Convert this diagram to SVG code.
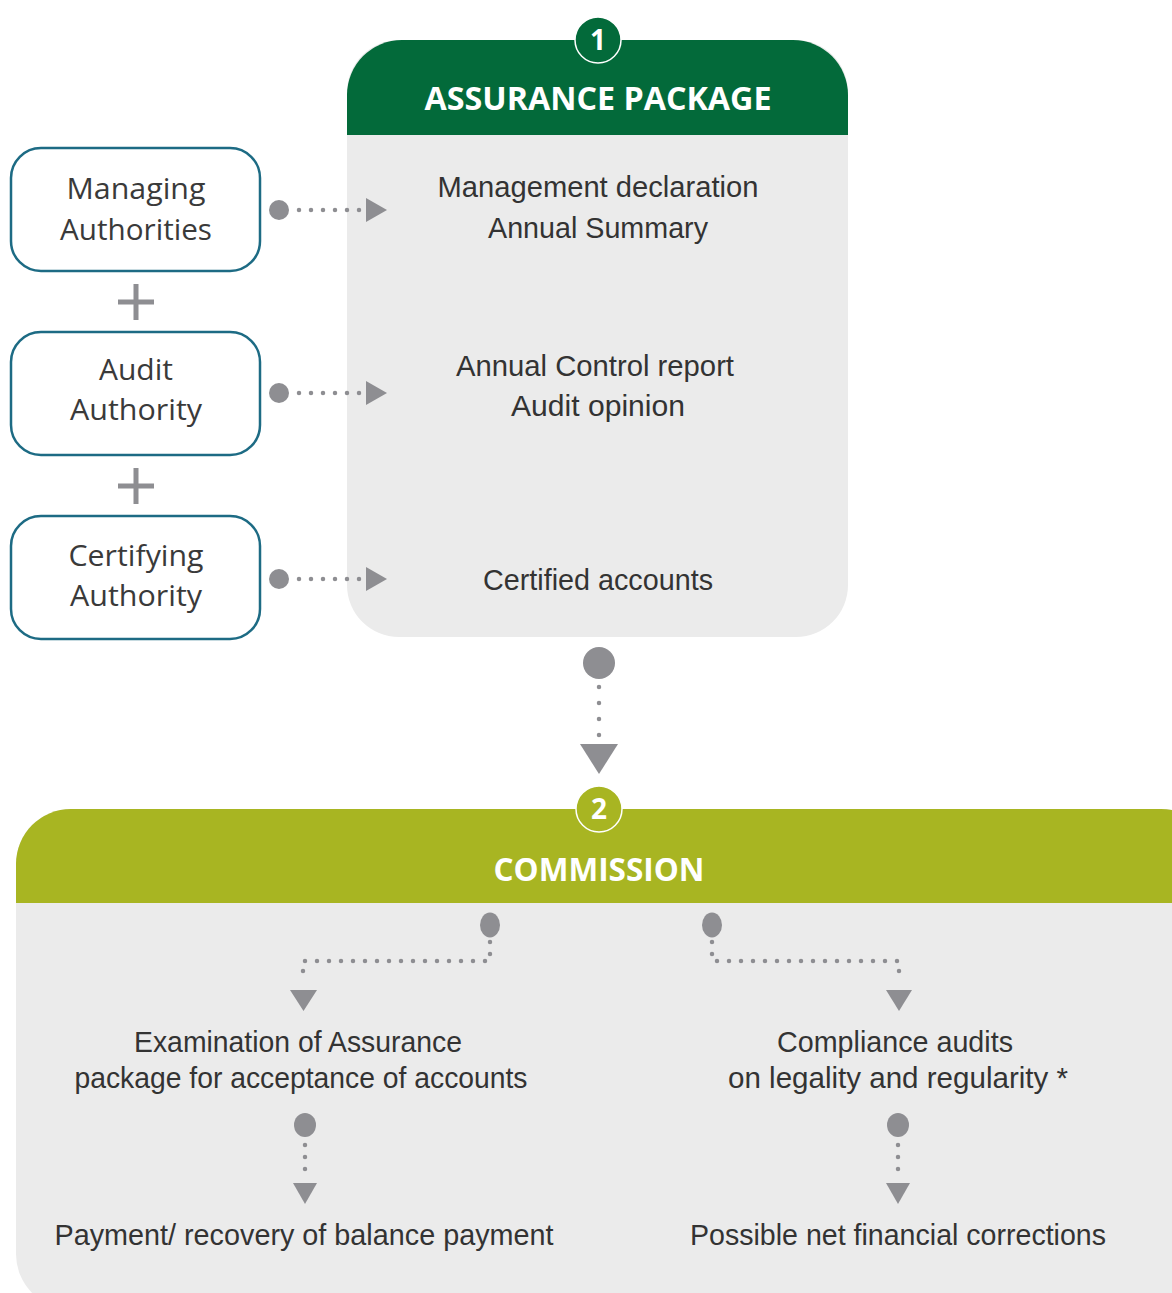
<svg xmlns="http://www.w3.org/2000/svg" width="1172" height="1293" viewBox="0 0 1172 1293">
<style>
.body{fill:#ebebeb}
.lbl{font-family:"Liberation Sans",Arial,sans-serif;font-size:30px;fill:#333;text-anchor:middle}
.box{fill:#fff;stroke:#1d6b84;stroke-width:2.5}
.blbl{font-family:"Open Sans","Liberation Sans",sans-serif;font-size:30px;fill:#3a3a3a;text-anchor:middle}
.hdr{font-family:"Open Sans","Liberation Sans",sans-serif;font-weight:bold;fill:#fff;text-anchor:middle}
.dot{fill:#8e8e92}
.dl{fill:none;stroke:#8e8e92;stroke-width:4.5;stroke-linecap:round;stroke-dasharray:0 12}
.plus{stroke:#8e8e92;stroke-width:5}
</style>
<rect width="1172" height="1293" fill="#fff"/>
<g id="assurance-package">
<rect class="body" x="347" y="40" width="501" height="597" rx="52"/>
<path d="M347,135 V95 A55,55 0 0 1 402,40 H793 A55,55 0 0 1 848,95 V135 Z" fill="#036a3a"/>
<circle cx="598" cy="40" r="23" fill="#036a3a" stroke="#fff" stroke-width="1.5"/>
<text class="hdr" x="598" y="50" font-size="28">1</text>
<text class="hdr" x="598" y="110" font-size="33" textLength="347" lengthAdjust="spacingAndGlyphs">ASSURANCE PACKAGE</text>
<text class="lbl" x="598" y="197" textLength="321" lengthAdjust="spacingAndGlyphs">Management declaration</text>
<text class="lbl" x="598" y="238" textLength="220" lengthAdjust="spacingAndGlyphs">Annual Summary</text>
<text class="lbl" x="595" y="376" textLength="278" lengthAdjust="spacingAndGlyphs">Annual Control report</text>
<text class="lbl" x="598" y="416" textLength="174" lengthAdjust="spacingAndGlyphs">Audit opinion</text>
<text class="lbl" x="598" y="590" textLength="230" lengthAdjust="spacingAndGlyphs">Certified accounts</text>
</g>
<g id="managing-authorities">
<rect class="box" x="11" y="148" width="249" height="123" rx="30"/>
<text class="blbl" x="136" y="199" textLength="139" lengthAdjust="spacingAndGlyphs">Managing</text>
<text class="blbl" x="136" y="240" textLength="152" lengthAdjust="spacingAndGlyphs">Authorities</text>
</g>
<g id="audit-authority">
<rect class="box" x="11" y="332" width="249" height="123" rx="30"/>
<text class="blbl" x="136" y="380" textLength="74" lengthAdjust="spacingAndGlyphs">Audit</text>
<text class="blbl" x="136" y="420" textLength="132" lengthAdjust="spacingAndGlyphs">Authority</text>
</g>
<g id="certifying-authority">
<rect class="box" x="11" y="516" width="249" height="123" rx="30"/>
<text class="blbl" x="136" y="566" textLength="135" lengthAdjust="spacingAndGlyphs">Certifying</text>
<text class="blbl" x="136" y="606" textLength="132" lengthAdjust="spacingAndGlyphs">Authority</text>
</g>
<g id="plus-signs">
<path class="plus" d="M118,302 H154 M136,284 V320"/>
<path class="plus" d="M118,486 H154 M136,468 V504"/>
</g>
<g id="commission">
<rect class="body" x="16" y="809" width="1200" height="500" rx="55"/>
<path d="M16,903 V864 A55,55 0 0 1 71,809 H1161 A55,55 0 0 1 1216,864 V903 Z" fill="#a8b522"/>
<circle cx="599" cy="809" r="23" fill="#a8b522" stroke="#fff" stroke-width="1.5"/>
<text class="hdr" x="599" y="819" font-size="28">2</text>
<text class="hdr" x="599" y="881" font-size="32" textLength="211" lengthAdjust="spacingAndGlyphs">COMMISSION</text>
<text class="lbl" x="298" y="1052" textLength="328" lengthAdjust="spacingAndGlyphs">Examination of Assurance</text>
<text class="lbl" x="301" y="1088" textLength="453" lengthAdjust="spacingAndGlyphs">package for acceptance of accounts</text>
<text class="lbl" x="895" y="1052" textLength="236" lengthAdjust="spacingAndGlyphs">Compliance audits</text>
<text class="lbl" x="898" y="1088" textLength="340" lengthAdjust="spacingAndGlyphs">on legality and regularity *</text>
<text class="lbl" x="304" y="1245" textLength="499" lengthAdjust="spacingAndGlyphs">Payment/ recovery of balance payment</text>
<text class="lbl" x="898" y="1245" textLength="416" lengthAdjust="spacingAndGlyphs">Possible net financial corrections</text>
</g>
<g id="connectors">
<circle class="dot" cx="279" cy="210" r="10"/>
<path class="dl" d="M299,210 H363"/>
<path class="dot" d="M366,198 L387,210 L366,222 Z"/>
<circle class="dot" cx="279" cy="393" r="10"/>
<path class="dl" d="M299,393 H363"/>
<path class="dot" d="M366,381 L387,393 L366,405 Z"/>
<circle class="dot" cx="279" cy="579" r="10"/>
<path class="dl" d="M299,579 H363"/>
<path class="dot" d="M366,567 L387,579 L366,591 Z"/>
<circle class="dot" cx="599" cy="663" r="16"/>
<path class="dl" d="M599,687 V740" style="stroke-dasharray:0 16"/>
<path class="dot" d="M580,744 L618,744 L599,774 Z"/>
<ellipse class="dot" cx="490" cy="925" rx="10" ry="12.5"/>
<path class="dl" d="M490,942 V961 H303 V980"/>
<path class="dot" d="M290,990 L317,990 L303.5,1011 Z"/>
<ellipse class="dot" cx="712" cy="925" rx="10" ry="12.5"/>
<path class="dl" d="M712,942 V961 H899 V980"/>
<path class="dot" d="M886,990 L912,990 L899,1011 Z"/>
<ellipse class="dot" cx="305" cy="1125" rx="11" ry="12"/>
<path class="dl" d="M305,1145 V1177"/>
<path class="dot" d="M293,1183 L317,1183 L305,1204 Z"/>
<ellipse class="dot" cx="898" cy="1125" rx="11" ry="12"/>
<path class="dl" d="M898,1145 V1177"/>
<path class="dot" d="M886,1183 L910,1183 L898,1204 Z"/>
</g>
</svg>
